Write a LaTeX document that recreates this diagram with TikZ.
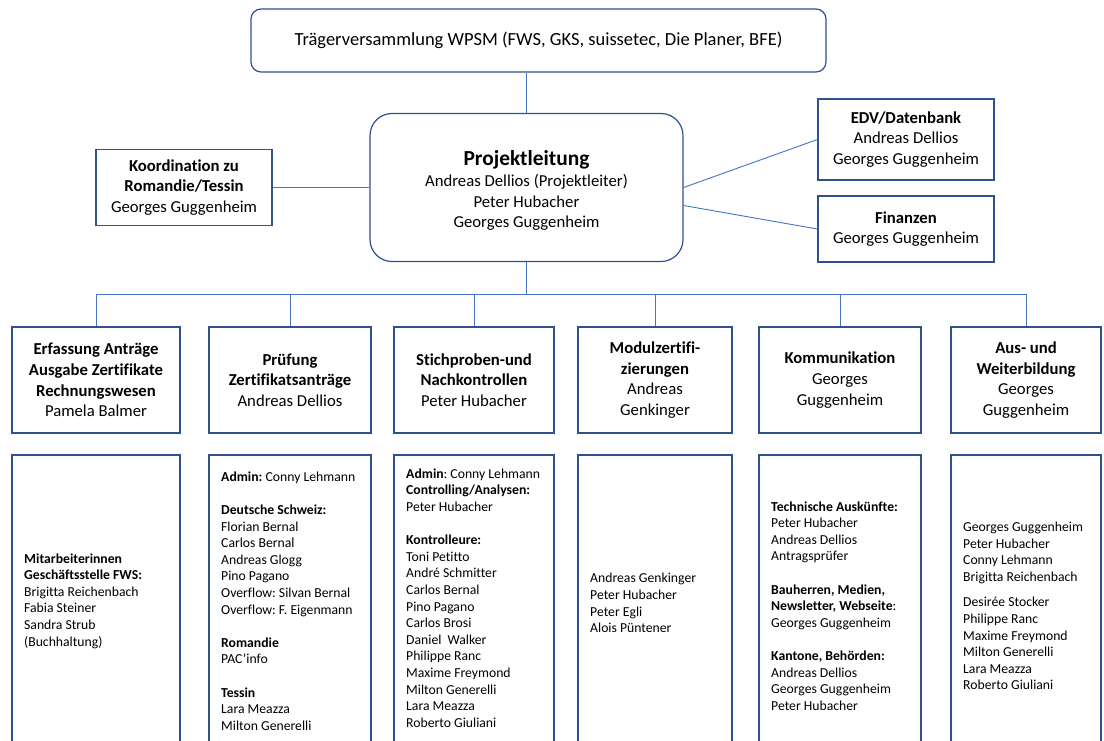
\documentclass[tikz,border=0pt]{standalone}
\usepackage{fontspec}
\setmainfont{Carlito}[Ligatures={NoCommon}]
\frenchspacing
\definecolor{bord}{RGB}{47,82,143}
\definecolor{lineblue}{RGB}{68,114,196}
\tikzset{
  box/.style={draw=bord, line width=1.2pt, fill=white, inner sep=0pt, align=center,
    font=\fontsize{16.7}{20.6}\selectfont},
  hdr/.style={box, minimum height=106pt},
  lowbox/.style={draw=bord, line width=1.2pt, minimum height=297pt, inner sep=0pt},
  ltext/.style={anchor=west, align=left, inner sep=0pt, font=\fontsize{13.7}{16.6}\selectfont},
  link/.style={draw=lineblue, line width=0.9pt},
}
\begin{document}
\frenchspacing
\begin{tikzpicture}[x=1pt,y=-1pt]
\useasboundingbox (0,0) rectangle (1104,740);
\clip (0,0) rectangle (1104,740);
\fill[white] (0,0) rectangle (1104,740);

% top
\node[box, rounded corners=10pt, minimum width=575pt, minimum height=63pt,
  font=\fontsize{18.5}{22}\selectfont] (T) at (538.5,40.5)
  {Trägerversammlung WPSM (FWS, GKS, suissetec, Die Planer, BFE)};

\node[box, rounded corners=22pt, minimum width=313pt, minimum height=148pt,
  label={[align=center, inner sep=0pt, yshift=-3pt, font=\fontsize{16.7}{20.6}\selectfont]center:{{\fontsize{21.4}{24}\selectfont\textbf{Projektleitung}}\\[1pt]
   Andreas Dellios (Projektleiter)\\ Peter Hubacher\\ Georges Guggenheim}}] (PL) at (526.5,187.5) {};

\node[box, minimum width=176pt, minimum height=76pt] (K) at (184,187.5)
  {\textbf{Koordination zu}\\ \textbf{Romandie/Tessin}\\ Georges Guggenheim};

\node[box, minimum width=176pt, minimum height=81pt] (EDV) at (906,139.5)
  {\textbf{EDV/Datenbank}\\ Andreas Dellios\\ Georges Guggenheim};

\node[box, minimum width=176pt, minimum height=66pt] (FIN) at (906,229)
  {\textbf{Finanzen}\\ Georges Guggenheim};

% header boxes
\node[hdr, minimum width=168pt] (H1) at (96,380)
  {\textbf{Erfassung Anträge}\\ \textbf{Ausgabe Zertifikate}\\ \textbf{Rechnungswesen}\\ Pamela Balmer};
\node[hdr, minimum width=162pt] (H2) at (290,380)
  {\textbf{Prüfung}\\ \textbf{Zertifikatsanträge}\\ Andreas Dellios};
\node[hdr, minimum width=160pt] (H3) at (474,380)
  {\textbf{Stichproben-und}\\ \textbf{Nachkontrollen}\\ Peter Hubacher};
\node[hdr, minimum width=154pt] (H4) at (655,380)
  {\textbf{Modulzertifi-}\\ \textbf{zierungen}\\ Andreas\\ Genkinger};
\node[hdr, minimum width=162pt] (H5) at (840,380)
  {\textbf{Kommunikation}\\ Georges\\ Guggenheim};
\node[hdr, minimum width=150pt] (H6) at (1026,380)
  {\textbf{Aus- und}\\ \textbf{Weiterbildung}\\ Georges\\ Guggenheim};

% lower boxes
\node[lowbox, minimum width=168pt] (L1) at (96,603.5) {};
\node[lowbox, minimum width=162pt] (L2) at (290,603.5) {};
\node[lowbox, minimum width=160pt] (L3) at (474,603.5) {};
\node[lowbox, minimum width=154pt] (L4) at (655,603.5) {};
\node[lowbox, minimum width=162pt] (L5) at (840,603.5) {};
\node[lowbox, minimum width=150pt] (L6) at (1026,603.5) {};

\node[ltext] (T1) at (24,601)
  {\textbf{Mitarbeiterinnen}\\ \textbf{Geschäftsstelle FWS:}\\ Brigitta Reichenbach\\ Fabia Steiner\\ Sandra Strub\\ (Buchhaltung)};
\node[ltext] (T2) at (221,601)
  {\textbf{Admin:} Conny Lehmann\\[16.6pt]
   \textbf{Deutsche Schweiz:}\\ Florian Bernal\\ Carlos Bernal\\ Andreas Glogg\\ Pino Pagano\\
   Overflow: Silvan Bernal\\ Overflow: F. Eigenmann\\[16.6pt]
   \textbf{Romandie}\\ PAC’info\\[16.6pt]
   \textbf{Tessin}\\ Lara Meazza\\ Milton Generelli};
\node[ltext] (T3) at (406,598)
  {\textbf{Admin}: Conny Lehmann\\ \textbf{Controlling/Analysen:}\\ Peter Hubacher\\[16.6pt]
   \textbf{Kontrolleure:}\\ Toni Petitto\\ André Schmitter\\ Carlos Bernal\\ Pino Pagano\\
   Carlos Brosi\\ Daniel\ \ Walker\\ Philippe Ranc\\ Maxime Freymond\\ Milton Generelli\\
   Lara Meazza\\ Roberto Giuliani};
\node[ltext] (T4) at (590,603)
  {Andreas Genkinger\\ Peter Hubacher\\ Peter Egli\\ Alois Püntener};
\node[ltext] (T5) at (771,606)
  {\textbf{Technische Auskünfte:}\\ Peter Hubacher\\ Andreas Dellios\\ Antragsprüfer\\[16.6pt]
   \textbf{Bauherren, Medien,}\\ \textbf{Newsletter, Webseite}:\\ Georges Guggenheim\\[16.6pt]
   \textbf{Kantone, Behörden:}\\ Andreas Dellios\\ Georges Guggenheim\\ Peter Hubacher};
\node[ltext] (T6) at (963,606)
  {Georges Guggenheim\\ Peter Hubacher\\ Conny Lehmann\\ Brigitta Reichenbach\\[9pt]
   Desirée Stocker\\ Philippe Ranc\\ Maxime Freymond\\ Milton Generelli\\ Lara Meazza\\ Roberto Giuliani};

% connectors
\coordinate (bus) at (526.5,294);
\draw[link] (PL.north |- T.south) -- (PL.north);
\draw[link] (K.east) -- (PL.west);
\draw[link] (PL.east) -- (EDV.west);
\draw[link] ([yshift=-18pt]PL.east) -- (FIN.west);
\draw[link] (PL.south) -- (bus);
\draw[link] (H1.north |- bus) -- (H6.north |- bus);
\foreach \h in {H1,H2,H3,H4,H5,H6}{
  \draw[link] (\h.north |- bus) -- (\h.north);
}
\end{tikzpicture}
\end{document}
